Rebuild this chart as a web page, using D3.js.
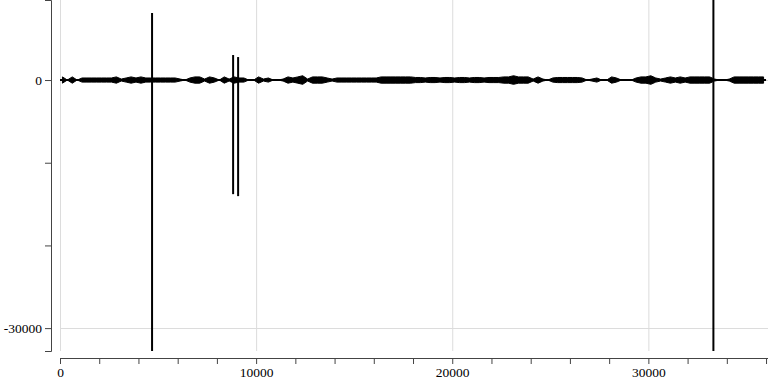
<!DOCTYPE html>
<html>
<head>
<meta charset="utf-8">
<script src="https://cdn.jsdelivr.net/npm/d3@7"></script>
<style>
  body { margin: 0; background: #fff; }
  text { font-family: "Liberation Serif", serif; }
</style>
</head>
<body>
<div class="wave-chart"></div>
<script>
// samples per envelope bin
const binSize = 250;

// half-height of the signal envelope in each bin
const envelope = [
  380, 0, 380, 0, 250, 250, 250, 250, 250, 250,
  250, 380, 120, 250, 380, 250, 380, 250, 250, 250,
  250, 250, 250, 250, 120, 0, 250, 380, 380, 120,
  380, 250, 0, 380, 120, 380, 250, 250, 0, 0,
  380, 120, 250, 0, 0, 120, 380, 250, 380, 520,
  120, 380, 380, 380, 250, 120, 250, 250, 250, 250,
  250, 250, 250, 250, 250, 380, 380, 380, 380, 380,
  380, 380, 310, 310, 250, 310, 310, 250, 310, 310,
  250, 310, 310, 250, 310, 310, 250, 310, 310, 310,
  380, 380, 520, 380, 380, 380, 120, 380, 120, 0,
  250, 310, 310, 310, 310, 310, 250, 0, 120, 250,
  0, 0, 380, 250, 0, 0, 0, 250, 380, 380,
  520, 250, 120, 250, 380, 250, 380, 250, 380, 380,
  380, 380, 380, 120, 0, 0, 120, 380, 380, 380,
  380, 380, 380, 380
];

// large clicks in the recording: sample index, low and high value
const spikeAt   = [4694, 8827, 9082, 33316];
const spikeLow  = [-32768, -13800, -14040, -32768];
const spikeHigh = [8100, 3025, 2780, 9680];

const xTicks = [0, 10000, 20000, 30000];
const yTicks = [-30000, -20000, -10000, 0];

const width = 768, height = 384;
const margin = ({top: 0, right: 0, bottom: 33, left: 60});

const svg = d3.select(".wave-chart")
    .append("svg")
    .attr("width", width)
    .attr("height", height);

const xScale = d3.scaleLinear()
    .domain([0, 36100])
    .range([margin.left, width - margin.right]);

const yScale = d3.scaleLinear()
    .domain([-32768, 9680])
    .range([height - margin.bottom, margin.top]);

// grid
svg.append("g")
    .selectAll("line")
    .data(xTicks)
    .join("line")
    .attr("x1", d => xScale(d) + 0.5)
    .attr("x2", d => xScale(d) + 0.5)
    .attr("y1", margin.top)
    .attr("y2", height - margin.bottom)
    .attr("stroke", "#dcdcdc");

svg.append("g")
    .selectAll("line")
    .data([-30000, 0])
    .join("line")
    .attr("x1", margin.left)
    .attr("x2", width - margin.right)
    .attr("y1", d => Math.round(yScale(d)) + 0.5)
    .attr("y2", d => Math.round(yScale(d)) + 0.5)
    .attr("stroke", "#dcdcdc");

// envelope of the waveform
const envArea = d3.area()
    .x((d, i) => xScale((i + 0.5) * binSize))
    .y0(d => yScale(-d))
    .y1(d => yScale(d))
    .curve(d3.curveLinear);

svg.append("path")
    .datum(envelope)
    .attr("fill", "black")
    .attr("stroke", "black")
    .attr("stroke-width", 1)
    .attr("stroke-linejoin", "miter")
    .attr("d", envArea);

svg.append("line")
    .attr("x1", xScale(0))
    .attr("x2", xScale(envelope.length * binSize))
    .attr("y1", yScale(0))
    .attr("y2", yScale(0))
    .attr("stroke", "black")
    .attr("stroke-width", 2);

// spikes
svg.append("g")
    .selectAll("line")
    .data(spikeAt)
    .join("line")
    .attr("x1", d => xScale(d))
    .attr("x2", d => xScale(d))
    .attr("y1", (d, i) => yScale(spikeLow[i]))
    .attr("y2", (d, i) => yScale(spikeHigh[i]))
    .attr("stroke", "black")
    .attr("stroke-width", 2);

// axes
const xAxis = d3.axisBottom(xScale)
    .tickValues(d3.range(0, 36001, 2000))
    .tickFormat(d => xTicks.includes(d) ? d : "")
    .tickSizeOuter(0)
    .tickSize(6);

svg.append("g")
    .attr("transform", `translate(0, ${height - margin.bottom + 7})`)
    .call(xAxis)
    .call(g => g.selectAll("text").attr("font-size", 13.5).attr("font-family", "Liberation Serif").attr("fill", "#000"))
    .call(g => g.select(".domain").attr("stroke", "#444").attr("d", `M${margin.left},0.5H${width}`))
    .call(g => g.selectAll(".tick line").attr("stroke", "#444"));

const yAxis = d3.axisLeft(yScale)
    .tickValues(yTicks)
    .tickFormat(d => d % 30000 === 0 ? d : "")
    .tickSizeOuter(0)
    .tickSize(6);

svg.append("g")
    .attr("transform", `translate(${margin.left - 9}, 0)`)
    .call(yAxis)
    .call(g => g.selectAll("text").attr("font-size", 13.5).attr("font-family", "Liberation Serif").attr("fill", "#000"))
    .call(g => g.select(".domain").attr("stroke", "#444"))
    .call(g => g.selectAll(".tick line").attr("stroke", "#444"));
</script>
</body>
</html>
